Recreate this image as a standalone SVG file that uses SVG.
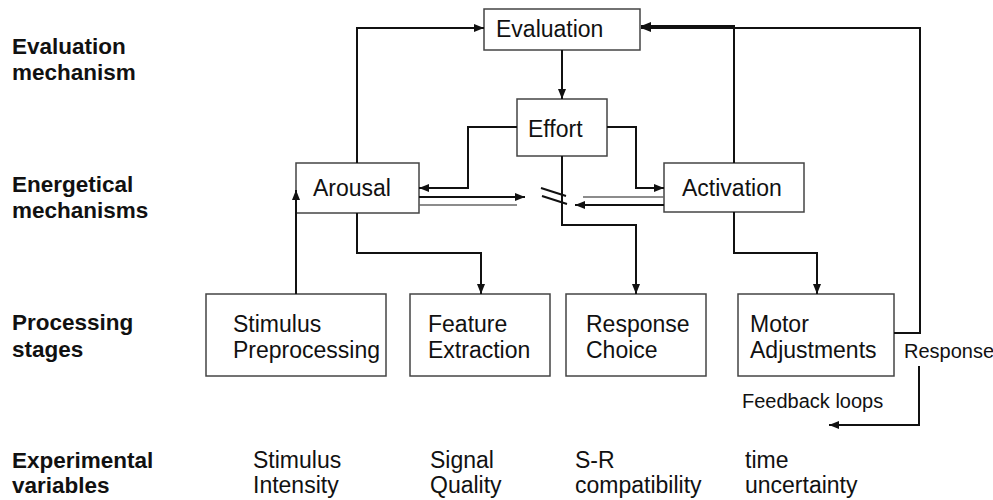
<svg xmlns="http://www.w3.org/2000/svg" width="993" height="500" viewBox="0 0 993 500">
<style>
.box{fill:#fff;stroke:#444;stroke-width:1.5}
.t{font-family:"Liberation Sans",Arial,sans-serif;font-size:23px;fill:#111}
.s{font-family:"Liberation Sans",Arial,sans-serif;font-size:20px;fill:#111}
.b{font-family:"Liberation Sans",Arial,sans-serif;font-size:22.5px;font-weight:bold;fill:#111}
.c{fill:none;stroke:#111;stroke-width:2}
.g{fill:none;stroke:#666;stroke-width:1.5}
</style>
<defs>
<marker id="ah" markerUnits="userSpaceOnUse" markerWidth="11" markerHeight="9" refX="10" refY="4" orient="auto" viewBox="0 0 11 9">
<path d="M0,0 L10,4 L0,8 z" fill="#111"/>
</marker>
</defs>
<rect width="993" height="500" fill="#fff"/>
<g id="row-labels">
<text class="b" x="12" y="54">Evaluation</text>
<text class="b" x="12" y="80">mechanism</text>
<text class="b" x="12" y="192">Energetical</text>
<text class="b" x="12" y="218">mechanisms</text>
<text class="b" x="12" y="330">Processing</text>
<text class="b" x="12" y="357">stages</text>
<text class="b" x="12" y="468">Experimental</text>
<text class="b" x="12" y="493">variables</text>
</g>
<g id="evaluation"><rect class="box" x="484" y="9" width="156" height="41"/><text class="t" x="496" y="37">Evaluation</text></g>
<g id="effort"><rect class="box" x="517" y="99" width="90" height="57"/><text class="t" x="528" y="137">Effort</text></g>
<g id="arousal"><rect class="box" x="296" y="163" width="123" height="50"/><text class="t" x="313" y="196">Arousal</text></g>
<g id="activation"><rect class="box" x="664" y="163" width="140" height="49"/><text class="t" x="682" y="196">Activation</text></g>
<g id="stimulus-preprocessing"><rect class="box" x="206" y="294" width="180" height="82"/><text class="t" x="233" y="332">Stimulus</text><text class="t" x="233" y="358">Preprocessing</text></g>
<g id="feature-extraction"><rect class="box" x="410" y="294" width="140" height="82"/><text class="t" x="428" y="332">Feature</text><text class="t" x="428" y="358">Extraction</text></g>
<g id="response-choice"><rect class="box" x="566" y="294" width="140" height="82"/><text class="t" x="586" y="332">Response</text><text class="t" x="586" y="358">Choice</text></g>
<g id="motor-adjustments"><rect class="box" x="738" y="294" width="156" height="82"/><text class="t" x="750" y="332">Motor</text><text class="t" x="750" y="358">Adjustments</text></g>
<g id="connectors">
<path class="c" d="M296 294 V190" marker-end="url(#ah)"/>
<path class="c" d="M357 163 V28 H484" marker-end="url(#ah)"/>
<path class="c" d="M357 213 V253 H481 V294" marker-end="url(#ah)"/>
<path class="c" d="M562 50 V99" marker-end="url(#ah)"/>
<path class="c" d="M517 127 H468 V188 H419" marker-end="url(#ah)"/>
<path class="c" d="M607 127 H636 V188 H664" marker-end="url(#ah)"/>
<path class="c" d="M562 156 V225 H636 V294" marker-end="url(#ah)"/>
<path class="c" d="M734 212 V253 H817 V294" marker-end="url(#ah)"/>
<path class="c" d="M734 163 V26 H641" marker-end="url(#ah)"/>
<path class="c" d="M894 333 H920 V28 H641" marker-end="url(#ah)"/>
<path class="c" d="M919 366 V425 H829" marker-end="url(#ah)"/>
<path class="c" d="M419 197 H525" marker-end="url(#ah)"/>
<path class="g" d="M419 205 H517"/>
<path class="g" d="M664 197 H583"/>
<path class="c" d="M664 205 H575" marker-end="url(#ah)"/>
<path class="c" d="M541 188 L566 196 M542 196 L567 204" stroke-width="1.6"/>
</g>
<g id="labels">
<text class="s" x="904" y="358">Response</text>
<text class="s" x="742" y="408">Feedback loops</text>
</g>
<g id="experimental-variables">
<text class="t" x="253" y="468">Stimulus</text><text class="t" x="253" y="493">Intensity</text>
<text class="t" x="430" y="468">Signal</text><text class="t" x="430" y="493">Quality</text>
<text class="t" x="575" y="468">S-R</text><text class="t" x="575" y="493">compatibility</text>
<text class="t" x="745" y="468">time</text><text class="t" x="745" y="493">uncertainty</text>
</g>
</svg>
